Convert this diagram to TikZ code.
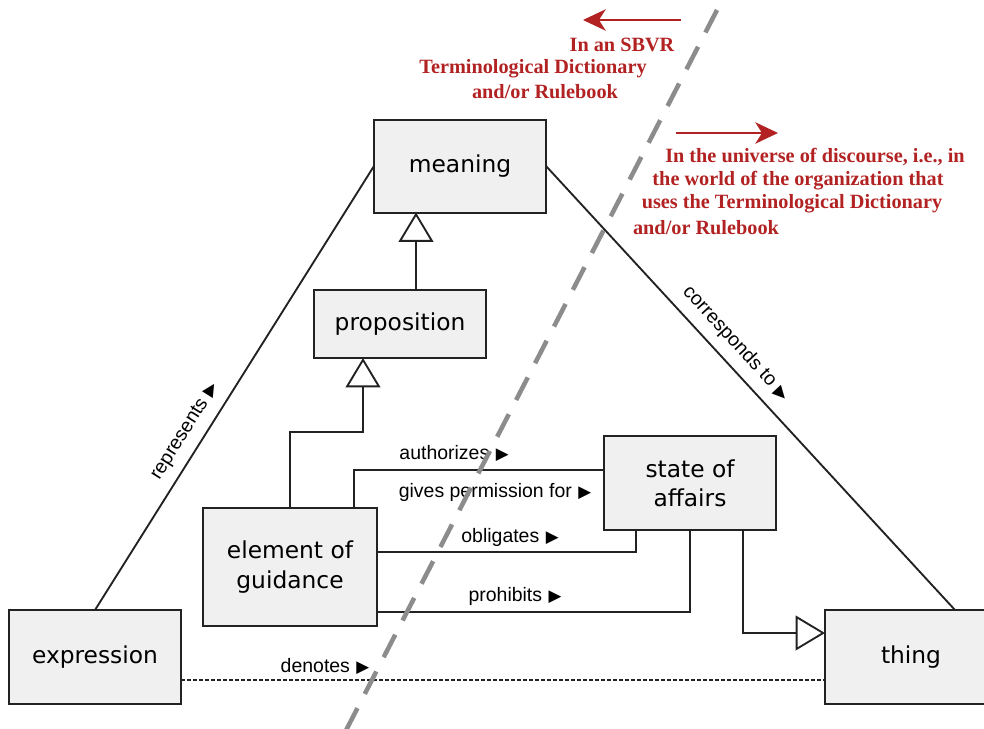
\documentclass[tikz,border=0pt]{standalone}
\usepackage{fontspec}
\setmainfont{DejaVu Sans}
\newfontfamily\lblfont{Liberation Sans}
\newfontfamily\redfont{Liberation Serif}
\newfontfamily\symfont{DejaVu Sans}
\usetikzlibrary{arrows.meta}
\definecolor{boxfill}{RGB}{240,240,240}
\definecolor{boxline}{RGB}{34,34,34}
\definecolor{redtxt}{RGB}{178,34,34}
\definecolor{dividergray}{RGB}{140,140,140}
\newcommand{\tri}{{\symfont\fontsize{12.5}{12.5}\selectfont ▶}}
\begin{document}
\begin{tikzpicture}[x=0.75pt,y=-0.75pt,
  box/.style={draw=boxline, fill=boxfill, line width=1.5pt, inner sep=0pt, outer sep=0pt, align=center, font=\fontsize{17.5}{22}\selectfont},
  conn/.style={draw=boxline, line width=1.4pt},
  gen/.style={conn, -{Triangle[open, length=22pt, width=26pt, fill=white]}},
  lbl/.style={font=\lblfont\fontsize{14.6}{17}\selectfont, inner sep=1pt},
  redlbl/.style={font=\redfont\bfseries\fontsize{15.2}{18}\selectfont, text=redtxt, inner sep=0pt},
  redarrow/.style={draw=redtxt, line width=1.6pt, -{Stealth[length=17pt,width=16pt,inset=5pt]}},
  dividerline/.style={draw=dividergray, line width=3.4pt, dash pattern=on 19pt off 12pt}
]
\useasboundingbox (0,0) rectangle (984,728);

% boxes
\node[box, minimum width=129pt, minimum height=69.75pt] (meaning) at (460,166) {\raisebox{-1.5pt}{meaning}};
\node[box, minimum width=129pt, minimum height=51pt] (prop) at (400,324) {\raisebox{-1.5pt}{proposition}};
\node[box, minimum width=130pt, minimum height=89pt] (elem) at (290,567) {element of\\guidance};
\node[box, minimum width=129pt, minimum height=70pt] (state) at (690,483) {state of\\affairs};
\node[box, minimum width=129pt, minimum height=70.5pt] (expr) at (95,657) {\raisebox{-1.5pt}{expression}};
\node[box, minimum width=129pt, minimum height=70.5pt] (thing) at (911,657) {\raisebox{-1.5pt}{thing}};

% generalizations
\draw[gen] ([xshift=12pt]prop.north) -- ([xshift=12pt]prop.north |- meaning.south);
\coordinate (g2) at (363,432);
\draw[gen] (elem.north) |- (g2) -- (g2 |- prop.south);
\draw[gen] ([xshift=39.75pt]state.south) |- ([yshift=18pt]thing.west);

% associations
\draw[conn] ([xshift=48pt]elem.north) |- ([yshift=9.75pt]state.west);
\draw[conn] ([yshift=11.25pt]elem.east) -| ([xshift=-40.5pt]state.south);
\draw[conn] ([yshift=-33.75pt]elem.east) -| (state.south);
\draw[conn] (expr.north) -- node[lbl, pos=0.38, sloped, above=6pt] (rep) {represents\,\,\tri} (meaning.west);
\draw[conn] (meaning.east) -- node[lbl, pos=0.43, sloped, above=6pt] (corr) {corresponds to\,\,\tri} ([xshift=33pt]thing.north);
\draw[conn, dash pattern=on 3pt off 1.5pt] ([yshift=-17.25pt]expr.east) -- ([yshift=-17.25pt]thing.west);

% association labels
\node[lbl] (auth) at (454,453) {authorizes\,\,\tri};
\node[lbl] (perm) at (495,492) {gives permission for\,\,\tri};
\node[lbl] (obl) at (510,537) {obligates\,\,\tri};
\node[lbl] (proh) at (515,596) {prohibits\,\,\tri};
\node[lbl] (den) at (325,666) {denotes\,\,\tri};

% divider
\coordinate (dtop) at (717,10);
\coordinate (dbot) at (340,742);
\draw[dividerline] (dtop) -- (dbot);

% red annotations
\coordinate (la1) at (681,20);
\coordinate (la2) at (583,20);
\draw[redarrow] (la1) -- (la2);
\coordinate (ra1) at (676,133);
\coordinate (ra2) at (778,133);
\draw[redarrow] (ra1) -- (ra2);

\node[redlbl] (l1) at (622,45) {In an SBVR};
\node[redlbl] (l2) at (533,69) {Terminological Dictionary};
\node[redlbl] (l3) at (545,92) {and/or Rulebook};

\node[redlbl] (r1) at (815,157) {In the universe of discourse, i.e., in};
\node[redlbl] (r2) at (798,181) {the world of the organization that};
\node[redlbl] (r3) at (792,204) {uses the Terminological Dictionary};
\node[redlbl] (r4) at (706,228) {and/or Rulebook};
\end{tikzpicture}
\end{document}
